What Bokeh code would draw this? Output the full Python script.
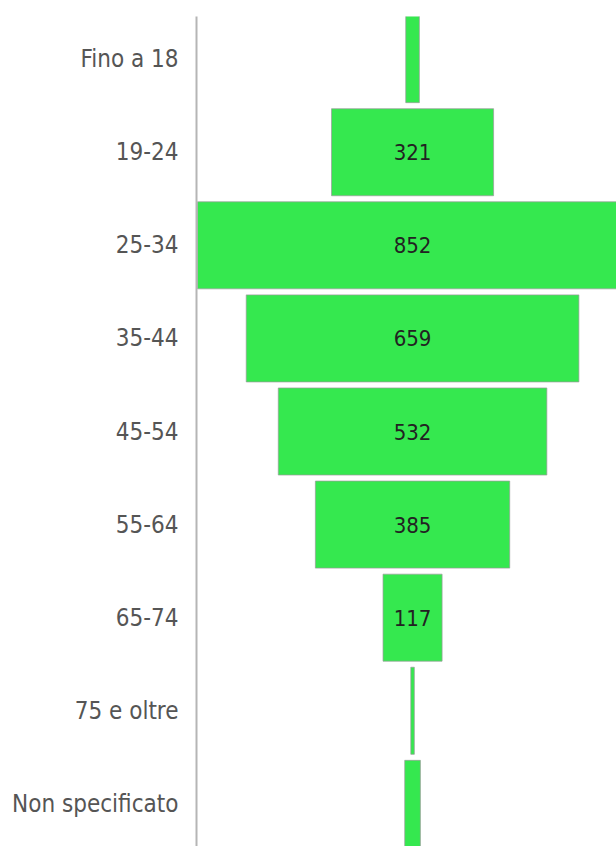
from bokeh.plotting import figure
from bokeh.models import ColumnDataSource, FactorRange, Range1d
from bokeh.core.properties import value
from bokeh.embed import file_html
from bokeh.resources import INLINE

categories = ["Fino a 18", "19-24", "25-34", "35-44", "45-54", "55-64", "65-74", "75 e oltre", "Non specificato"]
counts = [27, 321, 852, 659, 532, 385, 117, 7, 31]
labels = ["", "321", "852", "659", "532", "385", "117", "", ""]

FONT = "DejaVu Sans Condensed"

src = ColumnDataSource(dict(cat=categories, val=counts, lab=labels, x0=[0] * len(counts)))

p = figure(width=616, height=846, output_backend="svg", toolbar_location=None,
           y_range=FactorRange(factors=list(reversed(categories)), range_padding=-0.0093),
           x_range=Range1d(-428, 404),
           min_border_left=196, min_border_top=16, min_border_bottom=0, min_border_right=0)

p.rect(x="x0", y="cat", width="val", height=0.935, source=src,
       fill_color="#35e84f", line_color="#9a9a9a", line_width=1, line_alpha=0.7)

p.text(x="x0", y="cat", text="lab", source=src, text_align="center", text_baseline="middle",
       text_font=value(FONT), text_font_size="22px", text_color="#222222")

p.xaxis.visible = False
p.xgrid.visible = False
p.ygrid.visible = False
p.outline_line_color = None

ax = p.yaxis[0]
ax.axis_line_color = "#b5b5b5"
ax.axis_line_width = 2
ax.major_tick_line_color = None
ax.minor_tick_line_color = None
ax.major_tick_out = 0
ax.major_tick_in = 0
ax.major_label_standoff = 18
ax.major_label_text_font = FONT
ax.major_label_text_font_size = "24px"
ax.major_label_text_color = "#555555"

open("out.html", "w").write(file_html(p, INLINE))
